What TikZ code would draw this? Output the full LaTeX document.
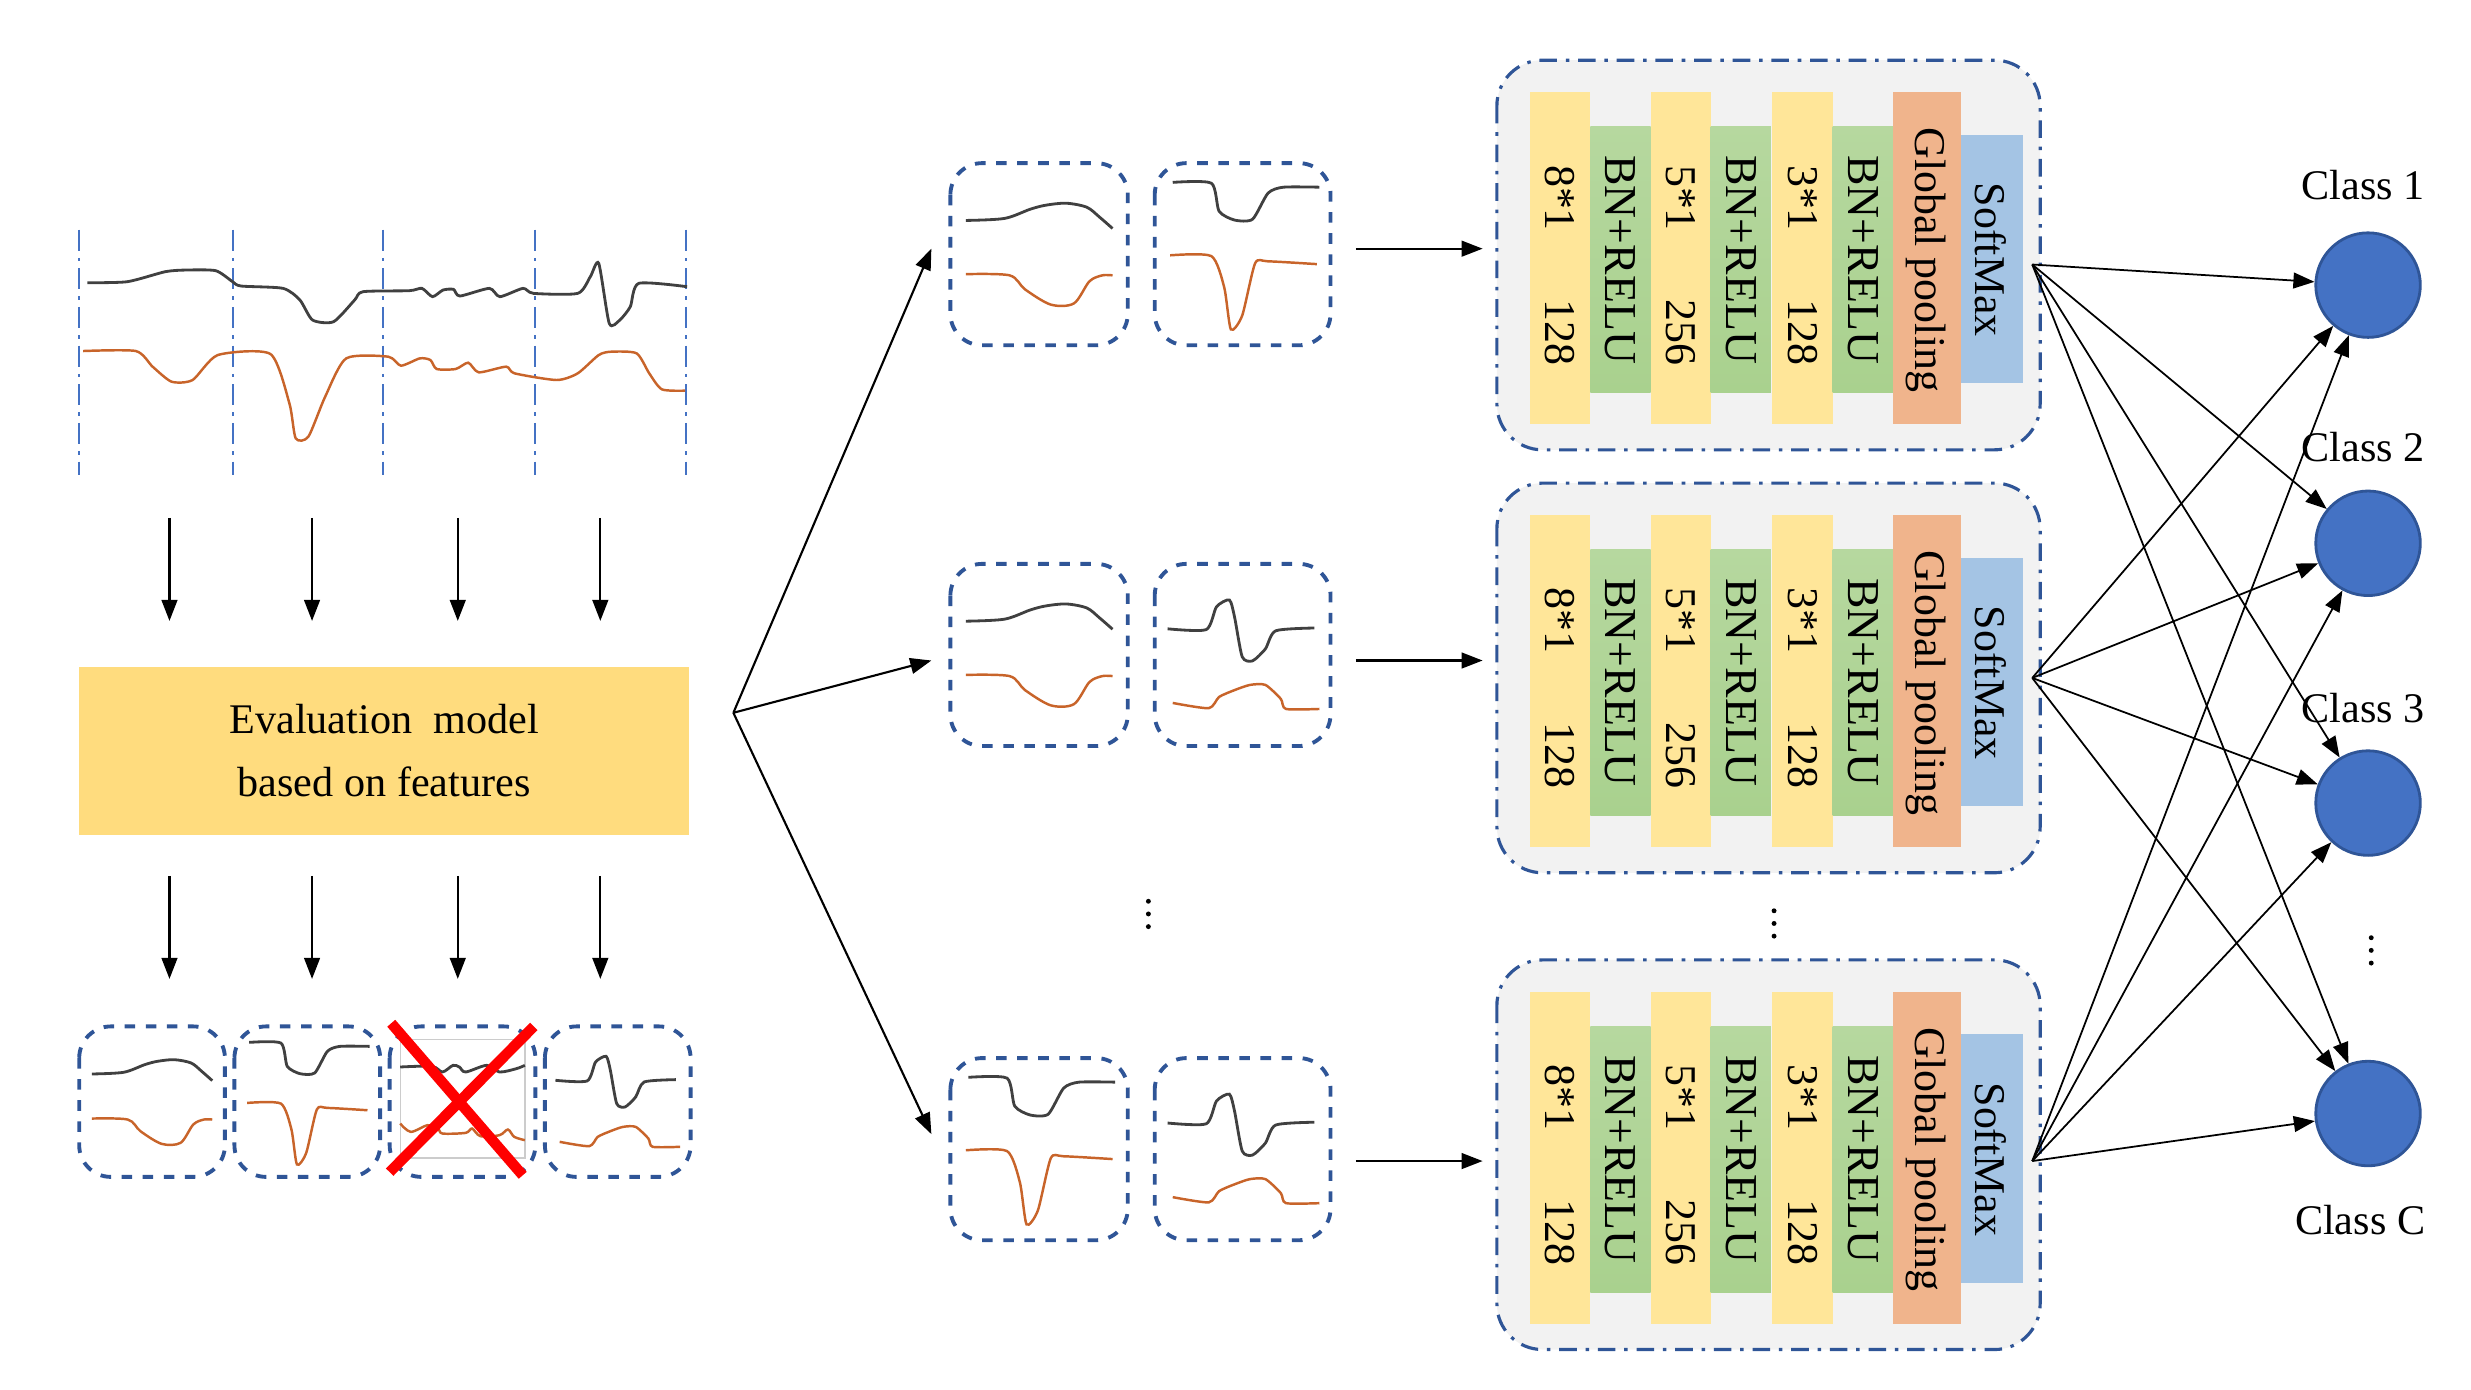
\documentclass[tikz,border=0pt]{standalone}
\usepackage{fontspec}
\setmainfont{Liberation Serif}
\usetikzlibrary{arrows.meta}
\definecolor{dblue}{HTML}{2F5597}
\definecolor{lblue}{HTML}{4472C4}
\definecolor{wblack}{HTML}{404040}
\definecolor{worange}{HTML}{C8642A}
\definecolor{evy}{HTML}{FFDC7E}
\definecolor{byel}{HTML}{FFE699}
\definecolor{bgreen}{HTML}{A9D18E}
\definecolor{bor}{HTML}{F0B48C}
\definecolor{bblu}{HTML}{A4C4E4}
\definecolor{panel}{HTML}{F2F2F2}
\newcommand{\wavA}{%
\draw[wb] plot[smooth] coordinates{(30,143)(105,138)(155,115)(185,105)(225,100)(265,110)(290,135)(315,163)};
\draw[wo] plot[smooth] coordinates{(30,277)(115,280)(145,315)(195,353)(240,350)(270,295)(295,280)(315,280)};}
\newcommand{\wavB}{%
\draw[wb] plot[smooth,tension=0.4] coordinates{(35,48)(110,50)(125,120)(155,142)(190,140)(220,75)(250,60)(320,60)};
\draw[wo] plot[smooth,tension=0.4] coordinates{(30,230)(110,232)(135,310)(148,415)(170,380)(195,250)(220,245)(315,252)};}
\newcommand{\wavC}{%
\draw[gray!40,line width=0.4pt] (25,40) rectangle (320,395);
\draw[wb] plot[smooth,tension=0.5] coordinates{(25,122)(100,120)(125,137)(150,117)(165,122)(180,137)(230,117)(260,137)(300,127)(320,117)};
\draw[wo] plot[smooth,tension=0.5] coordinates{(25,292)(50,317)(90,297)(115,307)(125,322)(180,320)(195,307)(215,330)(260,327)(280,310)(295,332)(320,342)};}
\newcommand{\wavD}{%
\draw[wb] plot[smooth,tension=0.4] coordinates{(25,162)(100,164)(120,107)(145,90)(155,132)(170,232)(190,242)(215,212)(235,167)(310,160)};
\draw[wo] plot[smooth,tension=0.4] coordinates{(35,347)(105,360)(125,332)(155,315)(185,302)(215,302)(245,337)(255,362)(320,362)};}
\newcommand{\vdts}[1]{\foreach \d in {-8,0,8} \fill[black] ($(#1)+(0,\d)$) circle (0.7pt);}
\newcommand{\cnnblk}[1]{%
\begin{scope}[yshift={-(#1)*0.01584cm}]
\draw[cnnbox] (945,0) rectangle (1288,246);
\fill[byel] (966,20) rectangle (1004,230);
\fill[byel] (1042,20) rectangle (1080,230);
\fill[byel] (1119,20) rectangle (1157,230);
\shade[top color=bgreen!85!white,bottom color=bgreen] (1004,42) rectangle (1042,210);
\shade[top color=bgreen!85!white,bottom color=bgreen] (1080,42) rectangle (1118,210);
\shade[top color=bgreen!85!white,bottom color=bgreen] (1157,42) rectangle (1195,210);
\fill[bor] (1195,20) rectangle (1238,230);
\fill[bblu] (1238,47) rectangle (1277,204);
\node[rl] at (985,87) {8*1};
\node[rl] at (985,172) {128};
\node[rl] at (1061,87) {5*1};
\node[rl] at (1061,172) {256};
\node[rl] at (1138,87) {3*1};
\node[rl] at (1138,172) {128};
\node[rl,font=\fontsize{13}{15}\selectfont] at (1023,126) {BN+RELU};
\node[rl,font=\fontsize{13}{15}\selectfont] at (1099,126) {BN+RELU};
\node[rl,font=\fontsize{13}{15}\selectfont] at (1176,126) {BN+RELU};
\node[rl] at (1216,126) {Global pooling};
\node[rl] at (1257,126) {SoftMax};
\end{scope}}
\usetikzlibrary{calc}
\begin{document}
\begin{tikzpicture}[x=0.01584cm,y=-0.01584cm,
  wb/.style={wblack,line width=0.8pt},
  wo/.style={worange,line width=0.7pt},
  sbox/.style={draw=dblue,dashed,line width=1.1pt,rounded corners=9pt},
  cnnbox/.style={draw=dblue,fill=panel,line width=0.9pt,rounded corners=13pt,dash pattern=on 5pt off 2.5pt on 1pt off 2.5pt},
  rl/.style={rotate=-90,inner sep=0pt,font=\fontsize{12.5}{15}\selectfont},
  arr/.style={-{Triangle[length=6pt,width=4.5pt]},line width=0.6pt},
  cls/.style={circle,fill=lblue,draw=dblue,line width=0.8pt,minimum size={66*0.01584cm},inner sep=0pt},
  lab/.style={font=\fontsize{12}{14}\selectfont}]
\useasboundingbox (0,0) rectangle (1560,877);
% top panel
\foreach \x in {50,147,242,338,433}
  \draw[lblue,line width=0.6pt,dash pattern=on 6pt off 2pt on 1pt off 2pt] (\x,145) -- (\x,300);
\begin{scope}[shift={(37.9,126.3)},xscale=0.2657,yscale=0.2104]
\draw[wb] plot[smooth,tension=0.4] coordinates{(65,248)(160,245)(250,215)(300,210)(370,212)(410,245)(430,258)(530,265)(570,300)(600,360)(650,365)(700,300)(720,275)(830,272)(860,265)(885,290)(910,270)(935,268)(950,288)(1020,265)(1045,290)(1100,265)(1125,280)(1230,280)(1260,230)(1280,190)(1305,370)(1330,360)(1355,320)(1375,250)(1490,260)};
\draw[wo] plot[smooth,tension=0.4] coordinates{(55,453)(180,453)(220,500)(265,545)(315,540)(375,465)(500,462)(545,610)(560,715)(590,710)(630,590)(680,475)(780,470)(810,497)(855,475)(880,480)(895,507)(940,507)(970,488)(995,517)(1060,500)(1080,520)(1180,540)(1230,520)(1280,465)(1310,455)(1370,460)(1400,520)(1430,568)(1485,572)};
\end{scope}
% arrows down
\foreach \x/\n in {107/1,197/2,289/3,379/4}{
  \coordinate (ua\n) at (\x,327); \coordinate (ub\n) at (\x,392);
  \coordinate (la\n) at (\x,553); \coordinate (lb\n) at (\x,618);
  \draw[arr] (ua\n) -- (ub\n);
  \draw[arr] (la\n) -- (lb\n);}
\node[fill=evy,minimum width={385*0.01584cm},minimum height={106*0.01584cm},align=center,lab,inner sep=0pt] (eval) at (242.5,474) {Evaluation\ \ model\\[4pt]based on features};
% bottom boxes
\foreach \x/\n in {50/1,148/2,246/3,344/4}
  \draw[sbox] (\x,648) rectangle ++(92,95) coordinate (bb\n);
\begin{scope}[shift={(50,648)},xscale=0.2667,yscale=0.21]\wavA\end{scope}
\begin{scope}[shift={(148,648)},xscale=0.2667,yscale=0.21]\wavB\end{scope}
\begin{scope}[shift={(246,648)},xscale=0.2667,yscale=0.21]\wavC\end{scope}
\begin{scope}[shift={(344,648)},xscale=0.2667,yscale=0.21]\wavD\end{scope}
\draw[red,line width=3pt] (247,646) -- (330,742);
\draw[red,line width=3pt] (337,648) -- (246,740);
% branch
\coordinate (br) at (463,450);
\coordinate (t1) at (588,157); \coordinate (t2) at (588,417); \coordinate (t3) at (588,716);
\foreach \n in {1,2,3} \draw[arr] (br) -- (t\n);
% middle boxes
\foreach \y/\n in {103/1,356/2,668/3}{
  \draw[sbox] (600,\y) rectangle ++(112,115);
  \draw[sbox] (729,\y) rectangle ++(111,115);}
\begin{scope}[shift={(600,103)},xscale=0.325,yscale=0.253]\wavA\end{scope}
\begin{scope}[shift={(729,103)},xscale=0.325,yscale=0.253]\wavB\end{scope}
\begin{scope}[shift={(600,356)},xscale=0.325,yscale=0.253]\wavA\end{scope}
\begin{scope}[shift={(729,356)},xscale=0.325,yscale=0.253]\wavD\end{scope}
\begin{scope}[shift={(600,668)},xscale=0.325,yscale=0.253]\wavB\end{scope}
\begin{scope}[shift={(729,668)},xscale=0.325,yscale=0.253]\wavD\end{scope}
\coordinate (vd1) at (725,577);
\vdts{vd1}
% to cnn
\coordinate (m1) at (856,157); \coordinate (n1) at (936,157);
\coordinate (m2) at (856,417); \coordinate (n2) at (936,417);
\coordinate (m3) at (856,733); \coordinate (n3) at (936,733);
\foreach \n in {1,2,3} \draw[arr] (m\n) -- (n\n);
\cnnblk{38}
\cnnblk{305}
\cnnblk{606}
\coordinate (vd2) at (1120,583);
\vdts{vd2}
% classes
\node[cls] (c1) at (1495,180) {};
\node[cls] (c2) at (1495,343) {};
\node[cls] (c3) at (1495,507) {};
\node[cls] (c4) at (1495,703) {};
\node[lab] at (1492,117) {Class 1};
\node[lab] at (1492,282) {Class 2};
\node[lab] at (1492,447) {Class 3};
\node[lab] at (1490,770) {Class C};
\coordinate (vd3) at (1497,600);
\vdts{vd3}
\coordinate (s1) at (1283,167);
\coordinate (s2) at (1283,428);
\coordinate (s3) at (1283,733);
\foreach \s in {1,2,3}
  \foreach \c in {1,2,3,4}
    \draw[arr,line width=0.5pt] (s\s) -- (c\c);
\end{tikzpicture}
\end{document}
